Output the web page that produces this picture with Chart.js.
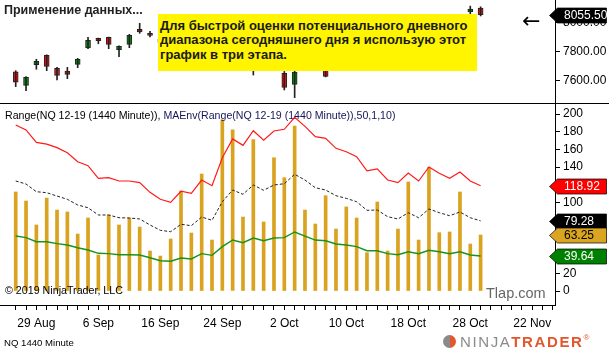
<!DOCTYPE html>
<html>
<head>
<meta charset="utf-8">
<script src="https://cdn.jsdelivr.net/npm/chart.js@4.4.0/dist/chart.umd.min.js"></script>
<style>
  body { margin: 0; background: #fff; font-family: "Liberation Sans", Arial, sans-serif; }
  #wrap { position: relative; width: 609px; height: 352px; overflow: hidden; background: #fff; }
  canvas { position: absolute; left: 0; }
  .txt { position: absolute; white-space: nowrap; }
  #title { left: 4px; top: 3px; font-size: 12.5px; font-weight: bold; color: #222; }
  #note { left: 158px; top: 14px; width: 319px; height: 57px; background: #fff500; font-size: 13px; font-weight: bold; color: #1a1a1a; line-height: 14.6px; padding: 4.5px 0 0 2px; box-sizing: border-box; white-space: nowrap; }
  #arrow { left: 522px; top: 8px; font-family: "DejaVu Sans", sans-serif; font-size: 22px; color: #000; }
  #legend { left: 5px; top: 109px; font-size: 10.6px; color: #000; }
  #legend span { color: #16165a; }
  #copy { left: 5px; top: 284px; font-size: 10.7px; color: #000; }
  #tlap { left: 486px; top: 285px; font-size: 14.5px; color: #666; }
  #inst { left: 4px; top: 337px; font-size: 9.6px; color: #000; }
  #logo { left: 443px; top: 333px; font-size: 15px; letter-spacing: 1.6px; }
  #logo .n { color: #8a8a8a; }
  #logo .t { color: #e2572b; font-weight: bold; }
  #logo .r { font-size: 8px; color: #e2572b; vertical-align: top; }
  #logo .ic { display: inline-block; width: 13px; height: 13px; border-radius: 50%; background: linear-gradient(90deg, #8a8a8a 50%, #e2572b 50%); vertical-align: -1px; margin-right: 4px; }
  .hl { position: absolute; height: 1px; background: #000; }
</style>
</head>
<body>
<div id="wrap">
  <canvas id="priceChart" width="609" height="103" style="top:0"></canvas>
  <canvas id="rangeChart" width="609" height="248" style="top:104px"></canvas>
  <div class="hl" style="left:0;top:103px;width:609px"></div>
  <div id="title" class="txt">Применение данных...</div>
  <div id="note" class="txt">Для быстрой оценки потенциального дневного<br>диапазона сегодняшнего дня я использую этот<br>график в три этапа.</div>
  <div id="arrow" class="txt">←</div>
  <div id="legend" class="txt">Range(NQ 12-19 (1440 Minute)), <span>MAEnv(Range(NQ 12-19 (1440 Minute)),50,1,10)</span></div>
  <div id="copy" class="txt">© 2019 NinjaTrader, LLC</div>
  <div id="tlap" class="txt">Tlap.com</div>
  <div id="inst" class="txt">NQ 1440 Minute</div>
  <div id="logo" class="txt"><span class="ic"></span><span class="n">NINJA</span><span class="t">TRADER</span><span class="r">®</span></div>
</div>
<script>
// daily candles, NQ 12-19
const opens  = [7662,7568,7710,7775,7685,7667,7713,7826,7892,7899,7814,7851,7954,7927,7865,7880,7890,7840,7870,7815,7845,7735,7850,7800,7690,7730,7650,7575,7680,7760,7725,7690,7735,7790,7760,7790,7830,7845,7870,7800,7840,7935,7965,7990,8074,8101];
const highs  = [7669,7628,7748,7779,7692,7692,7754,7899,7894,7901,7841,7920,7996,7941,7894,7905,7935,7880,7925,7860,7900,7880,7880,7810,7740,7820,7664,7669,7770,7800,7736,7745,7800,7830,7795,7860,7855,7890,7895,7850,7950,7975,8000,8050,8115,8110];
const lows   = [7559,7531,7679,7669,7605,7614,7690,7821,7855,7821,7766,7828,7927,7903,7846,7846,7822,7815,7793,7802,7707,7698,7796,7639,7670,7670,7536,7483,7678,7725,7626,7675,7705,7748,7752,7760,7810,7820,7772,7792,7810,7909,7933,7938,8062,8047];
const closes = [7589,7623,7734,7699,7637,7644,7748,7879,7876,7851,7837,7913,7936,7913,7886,7890,7840,7870,7815,7845,7735,7850,7805,7690,7720,7790,7554,7660,7760,7790,7630,7735,7790,7760,7790,7830,7845,7870,7800,7840,7935,7965,7990,8040,8094,8055.5];

// Range + MA envelope (50%)
const rangeVals = [111.9,101.7,74.6,105,91.5,89.3,64.4,82.5,40.7,85.9,74.6,82.5,72.3,45.2,39.5,58.8,113,65.5,132.2,57.6,193.2,182,83.6,171,78,150.6,128,186.4,91.5,75.7,107.7,70,95,82.5,43.3,100.6,45.2,70,123.2,57.6,139.8,65.9,66.7,111.9,53.1,63.25];
const upperEnv = [187.6,182,168,166,162,156.3,146,141.6,127.3,128,124.3,124.3,122.4,111.5,103.6,100.2,112.7,110.4,125.4,119,150.6,171.8,164.6,181.1,170.3,180.8,182.7,196.3,186,174.4,172.5,161.2,157.4,151.7,135.9,137.9,125.4,122.4,133.3,124.3,140.1,133,127.3,134.5,124.3,118.92];
const maEnv = [124.3,120.9,112.2,111.1,107.3,103.6,97.2,94.1,85.9,85.9,82.8,82.5,81.4,74.6,68.6,67,75.4,73.8,83.6,79.9,100.9,114.1,109.3,119.8,113.8,119.8,121.2,131.9,125.4,116.7,114.1,107.7,104.7,100.9,91.2,91.5,84,81.4,88.5,82.8,92.7,88.5,85.1,89.3,82.8,79.28];
const lowerEnv = [62.1,60.3,55.7,55.7,53.5,52,48.9,46.3,42.6,42.2,41,41,40.7,37.6,34.2,33.6,37.3,36.2,42.2,40.3,50.1,57.6,54.6,59.9,56.8,59.9,60.3,66.7,62.1,57.6,56.8,53.1,52,50.1,45.5,45.5,42.2,41,44.4,42.2,46,44.4,42.2,44.4,40.7,39.64];

// axis labels
const dateLabels = ['29 Aug', '6 Sep', '16 Sep', '24 Sep', '2 Oct', '10 Oct', '18 Oct', '28 Oct', '22 Nov'];
const dateIdx = [2, 8, 14, 20, 26, 32, 38, 44, 50];
const priceTicks = [7600, 7800, 8000];
const rangeTicks = [0, 20, 40, 60, 80, 100, 120, 140, 160, 180, 200];

const xMin = -1.52, xMax = 52.2;
const UP = '#0a8a0a', DOWN = '#f01010';
const FONT = '"Liberation Sans", Arial, sans-serif';

Chart.defaults.font.family = FONT;
Chart.defaults.font.size = 12;
Chart.defaults.color = '#000';

const pts = arr => arr.map((v, i) => ({ x: i, y: v }));

// price tags on the right axis
const tagPlugin = {
  id: 'tags',
  afterDraw(chart, args, opts) {
    const ctx = chart.ctx, ys = chart.scales.y;
    (opts.items || []).forEach(t => {
      const py = Math.round(ys.getPixelForValue(t.value)) + 0.5;
      ctx.save();
      ctx.beginPath();
      ctx.moveTo(549.5, py);
      ctx.lineTo(557.5, py - 7.5);
      ctx.lineTo(606.5, py - 7.5);
      ctx.lineTo(606.5, py + 7.5);
      ctx.lineTo(557.5, py + 7.5);
      ctx.closePath();
      ctx.fillStyle = t.bg;
      ctx.fill();
      ctx.strokeStyle = 'rgba(0,0,0,0.7)';
      ctx.lineWidth = 1;
      ctx.stroke();
      ctx.fillStyle = t.fg;
      ctx.font = '12px ' + FONT;
      ctx.textBaseline = 'middle';
      ctx.fillText(t.value.toFixed(2), 564, py + 0.5);
      ctx.restore();
    });
  }
};

function rightAxis(min, max, ticks, fmt) {
  return {
    position: 'right', min, max,
    afterBuildTicks: s => { s.ticks = ticks.map(v => ({ value: v })); },
    afterFit: s => { s.width = 54; s.paddingTop = 0; s.paddingBottom = 0; },
    grid: { drawOnChartArea: false, drawTicks: true, tickLength: 5, color: '#000' },
    border: { display: true, color: '#000' },
    ticks: { padding: 3, callback: fmt, font: { size: 12 } }
  };
}

// ---- price panel ----
const last = closes.length - 1;
const candleColors = closes.map((c, i) => c >= opens[i] ? UP : DOWN);

new Chart(document.getElementById('priceChart'), {
  type: 'bar',
  data: {
    datasets: [
      {
        label: 'wick', grouped: false, barThickness: 1, backgroundColor: '#222',
        data: highs.map((h, i) => ({ x: i, y: [lows[i], h] }))
      },
      {
        label: 'body', grouped: false, barThickness: 5, backgroundColor: candleColors,
        borderColor: '#222', borderWidth: 1, borderSkipped: false,
        data: opens.map((o, i) => ({ x: i, y: [o, closes[i]] }))
      }
    ]
  },
  options: {
    responsive: false, animation: false, devicePixelRatio: 1,
    layout: { padding: 0, autoPadding: false },
    plugins: {
      legend: { display: false }, tooltip: { enabled: false },
      tags: { items: [{ value: closes[last], bg: '#000', fg: '#fff' }] }
    },
    scales: {
      x: { type: 'linear', min: xMin, max: xMax, offset: false, display: false },
      y: rightAxis(7446, 8157, priceTicks, v => v.toFixed(2))
    }
  },
  plugins: [tagPlugin]
});

// ---- range panel ----
const n = rangeVals.length - 1;
new Chart(document.getElementById('rangeChart'), {
  type: 'bar',
  data: {
    datasets: [
      { type: 'line', label: 'upper', data: pts(upperEnv), borderColor: '#ff1a1a', borderWidth: 1.2, pointRadius: 0, tension: 0, order: 1 },
      { type: 'line', label: 'ma', data: pts(maEnv), borderColor: '#222', borderWidth: 1, borderDash: [3, 2], pointRadius: 0, tension: 0, order: 1 },
      { type: 'line', label: 'lower', data: pts(lowerEnv), borderColor: '#179417', borderWidth: 1.4, pointRadius: 0, tension: 0, order: 1 },
      { label: 'Range', data: pts(rangeVals), backgroundColor: '#d9a21f', barThickness: 3, grouped: false, order: 2 }
    ]
  },
  options: {
    responsive: false, animation: false, devicePixelRatio: 1,
    layout: { padding: 0, autoPadding: false },
    plugins: {
      legend: { display: false }, tooltip: { enabled: false },
      tags: {
        items: [
          { value: upperEnv[n], bg: '#ff0000', fg: '#fff' },
          { value: maEnv[n], bg: '#000', fg: '#fff' },
          { value: rangeVals[n], bg: '#daa520', fg: '#000' },
          { value: lowerEnv[n], bg: '#008000', fg: '#fff' }
        ]
      }
    },
    scales: {
      x: {
        type: 'linear', min: xMin, max: xMax, offset: false,
        afterBuildTicks: s => {
          const t = [];
          for (let i = 0; i <= 52; i++) t.push({ value: i });
          s.ticks = t;
        },
        afterFit: s => { s.height = 47; s.paddingLeft = 0; s.paddingRight = 0; },
        grid: { drawOnChartArea: false, drawTicks: true, tickLength: 5, color: '#000', offset: false },
        border: { display: true, color: '#000' },
        ticks: {
          autoSkip: false, maxRotation: 0, padding: 6, font: { size: 12 },
          callback: v => { const k = dateIdx.indexOf(v); return k >= 0 ? dateLabels[k] : ''; }
        }
      },
      y: rightAxis(-15.8, 211.3, rangeTicks, v => String(v))
    }
  },
  plugins: [tagPlugin]
});
</script>
</body>
</html>
